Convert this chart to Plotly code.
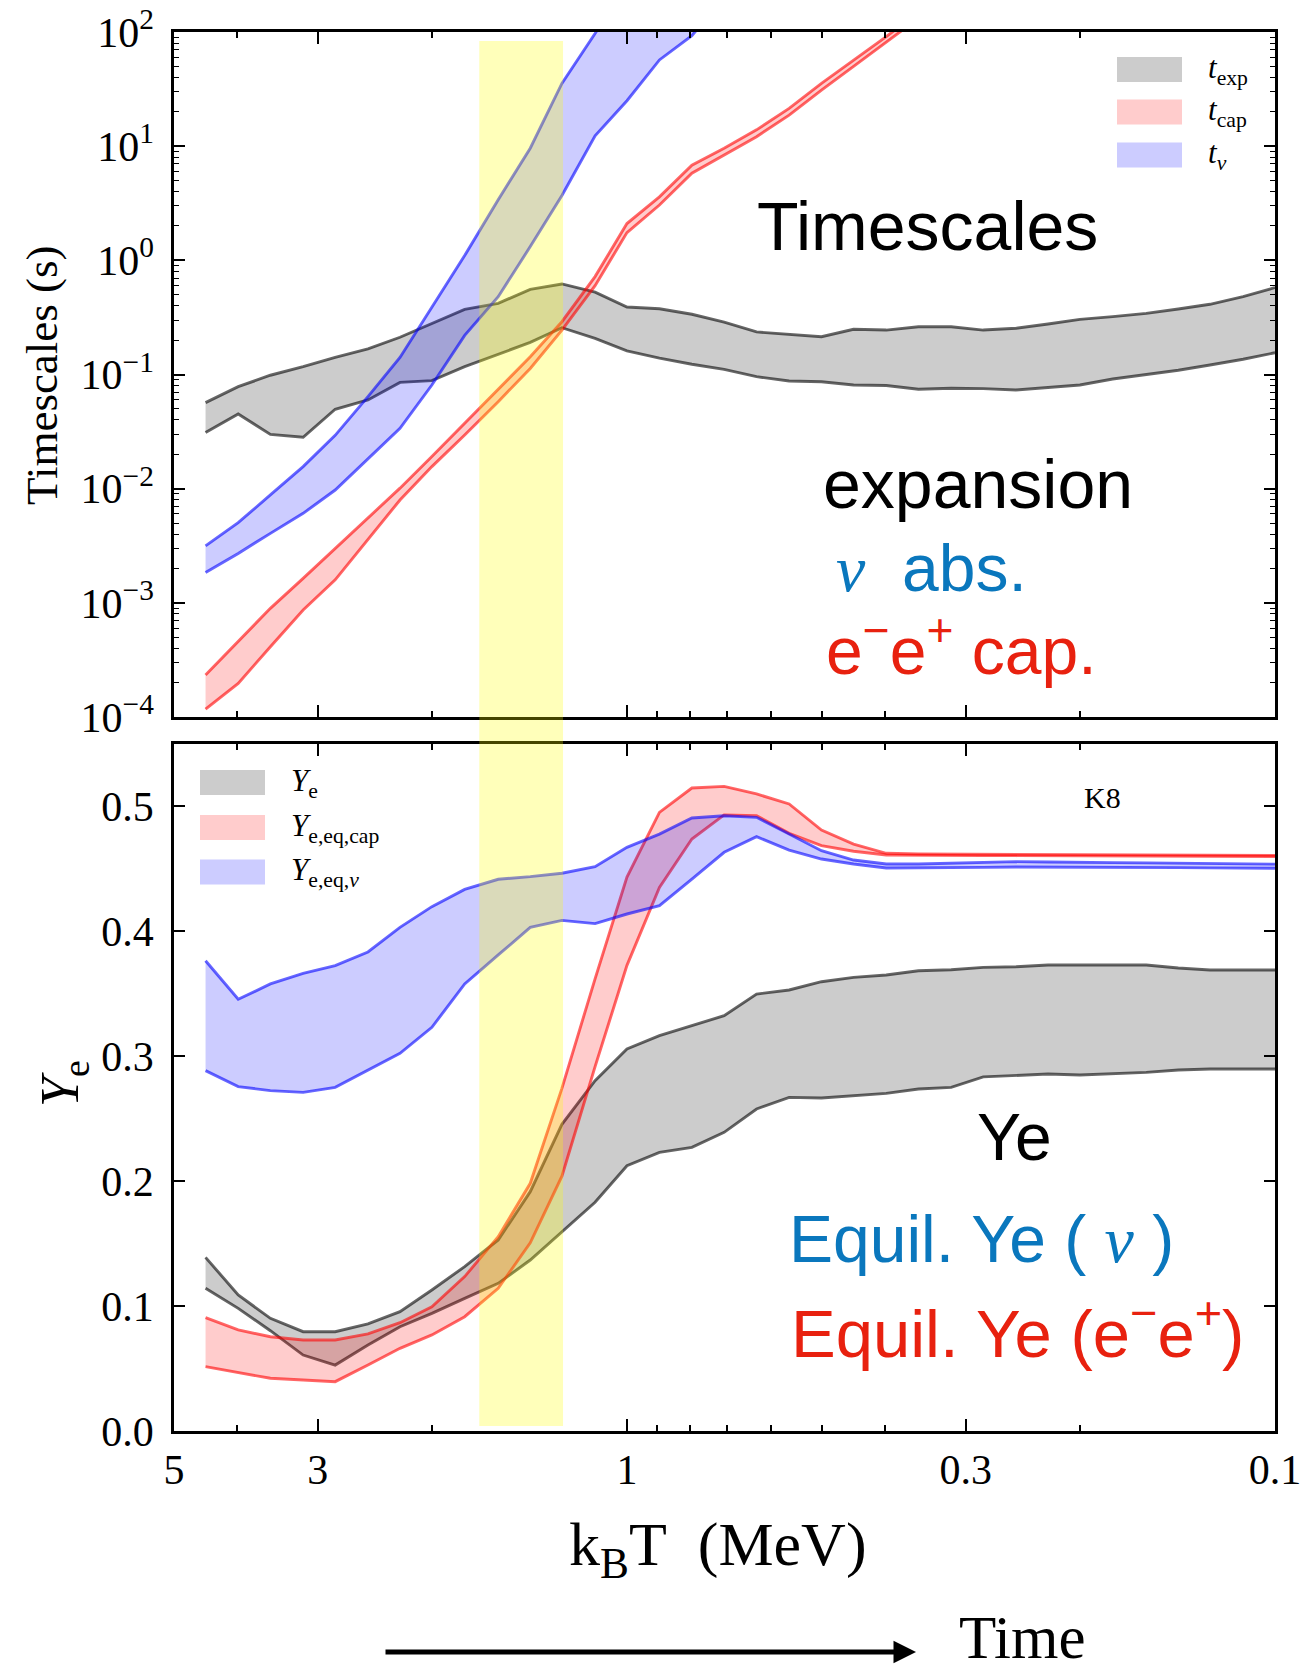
import math
import plotly.graph_objects as go

# ---------------- data ----------------
T = [4.47, 3.98, 3.55, 3.16, 2.82, 2.51, 2.24, 2.00, 1.78, 1.58, 1.41, 1.26, 1.12, 1.00,
     0.891, 0.794, 0.708, 0.631, 0.562, 0.501, 0.447, 0.398, 0.355, 0.316, 0.282, 0.251,
     0.224, 0.200, 0.178, 0.158, 0.141, 0.126, 0.112, 0.100]

# top panel: timescales (s)
t_exp_hi = [0.0567, 0.0783, 0.0985, 0.117, 0.141, 0.168, 0.212, 0.281, 0.372, 0.420, 0.557, 0.621,
            0.527, 0.390, 0.377, 0.337, 0.288, 0.236, 0.223, 0.214, 0.249, 0.245, 0.262, 0.262,
            0.245, 0.254, 0.277, 0.304, 0.321, 0.343, 0.375, 0.412, 0.481, 0.577]
t_exp_lo = [0.0310, 0.0451, 0.0299, 0.0282, 0.0496, 0.0598, 0.0853, 0.0883, 0.117, 0.150, 0.191,
            0.257, 0.207, 0.161, 0.139, 0.123, 0.111, 0.0957, 0.0877, 0.0865, 0.0809, 0.0800,
            0.0742, 0.0757, 0.0752, 0.0732, 0.0772, 0.0810, 0.0914, 0.100, 0.109, 0.121, 0.136, 0.155]
t_cap_hi = [2.33e-4, 4.57e-4, 8.95e-4, 1.64e-3, 3.0e-3, 5.5e-3, 0.0101, 0.0191, 0.0373, 0.073,
            0.143, 0.290, 0.72, 2.1, 3.6, 6.8, 9.6, 13.9, 21.4, 35.5, 57.0, 91.0, 150.0]
t_cap_lo = [1.17e-4, 1.97e-4, 4.13e-4, 8.65e-4, 1.59e-3, 3.55e-3, 7.96e-3, 0.0156, 0.0295, 0.0578,
            0.113, 0.245, 0.60, 1.75, 3.05, 5.8, 8.4, 12.1, 18.7, 31.0, 50.0, 81.0, 132.0]
t_nu_hi = [0.00315, 0.00504, 0.00881, 0.0156, 0.0293, 0.064, 0.141, 0.393, 1.1, 3.4, 9.6,
           35.5, 97.0, 270.0]
t_nu_lo = [0.00184, 0.00271, 0.00406, 0.00608, 0.00973, 0.0184, 0.0338, 0.0809, 0.22, 0.48,
           1.32, 3.7, 12.3, 25.0, 56.9, 93.0, 200.0]

# bottom panel: electron fraction
ye_hi = [0.1390, 0.1089, 0.0902, 0.0795, 0.0795, 0.0857, 0.0955, 0.1129, 0.1316, 0.1529, 0.1916,
         0.2455, 0.2805, 0.3058, 0.3165, 0.3245, 0.3325, 0.3498, 0.3531, 0.3597, 0.3632, 0.3651,
         0.3685, 0.3693, 0.3712, 0.3717, 0.3731, 0.3731, 0.3733, 0.3731, 0.3707, 0.3691, 0.3691, 0.3691]
ye_lo = [0.1142, 0.0982, 0.0803, 0.0608, 0.0528, 0.0688, 0.0835, 0.0942, 0.1062, 0.1182, 0.1369,
         0.1596, 0.1831, 0.2124, 0.2231, 0.2271, 0.2391, 0.2578, 0.2671, 0.2666, 0.2685, 0.2703,
         0.2738, 0.2751, 0.2835, 0.2848, 0.2858, 0.2850, 0.2863, 0.2871, 0.2890, 0.2898, 0.2898, 0.2898]
ye_cap_hi = [0.0907, 0.0809, 0.0755, 0.0729, 0.0729, 0.0777, 0.0867, 0.0995, 0.1236, 0.1556, 0.1983,
             0.2743, 0.3620, 0.4435, 0.4953, 0.5148, 0.5161, 0.5100, 0.5020, 0.4811, 0.4699, 0.4625,
             0.4619, 0.4618, 0.4617, 0.4616, 0.4615, 0.4614, 0.4613, 0.4612, 0.4611, 0.4610, 0.4609, 0.4608]
ye_cap_lo = [0.0515, 0.0467, 0.0422, 0.0408, 0.0395, 0.0528, 0.0662, 0.0769, 0.0915, 0.1142, 0.1507,
             0.2040, 0.2917, 0.3728, 0.4352, 0.4739, 0.4932, 0.4926, 0.4785, 0.4686, 0.4641, 0.4611,
             0.4608, 0.4607, 0.4606, 0.4606, 0.4605, 0.4605, 0.4604, 0.4603, 0.4602, 0.4601, 0.4600, 0.4599]
ye_nu_hi = [0.3765, 0.3456, 0.3579, 0.3664, 0.3725, 0.3835, 0.4032, 0.4198, 0.4336, 0.4417, 0.4438,
            0.4465, 0.4518, 0.4673, 0.4779, 0.4908, 0.4926, 0.4913, 0.4779, 0.4646, 0.4571, 0.4539,
            0.4539, 0.4545, 0.4553, 0.4558, 0.4555, 0.4550, 0.4550, 0.4548, 0.4545, 0.4543, 0.4540, 0.4538]
ye_nu_lo = [0.2885, 0.2757, 0.2725, 0.2711, 0.2751, 0.2890, 0.3023, 0.3232, 0.3579, 0.3811, 0.4032,
            0.4088, 0.4062, 0.4139, 0.4206, 0.4419, 0.4633, 0.4758, 0.4651, 0.4579, 0.4539, 0.4507,
            0.4507, 0.4510, 0.4512, 0.4515, 0.4515, 0.4513, 0.4512, 0.4510, 0.4510, 0.4508, 0.4507, 0.4505]

band_window = [1.69, 1.255]  # highlighted temperature window (MeV)

x_major = [5, 3, 1, 0.3, 0.1]
x_major_text = ["5", "3", "1", "0.3", "0.1"]
x_minor = [4, 2, 0.9, 0.8, 0.7, 0.6, 0.5, 0.4, 0.2]
y1_major = [1e-4, 1e-3, 1e-2, 1e-1, 1e0, 1e1, 1e2]
y1_major_text = ["10<sup>\u22124</sup>", "10<sup>\u22123</sup>", "10<sup>\u22122</sup>",
                 "10<sup>\u22121</sup>", "10<sup>0</sup>", "10<sup>1</sup>", "10<sup>2</sup>"]
y1_minor = [m * 10.0 ** e for e in range(-4, 2) for m in range(2, 10)]
y2_major = [0.0, 0.1, 0.2, 0.3, 0.4, 0.5]
y2_major_text = ["0.0", "0.1", "0.2", "0.3", "0.4", "0.5"]

top_legend = ["<i>t</i><sub>exp</sub>", "<i>t</i><sub>cap</sub>", "<i>t</i><sub><i>\u03bd</i></sub>"]
bot_legend = ["<i>Y</i><sub>e</sub>", "<i>Y</i><sub>e,eq,cap</sub>", "<i>Y</i><sub>e,eq,<i>\u03bd</i></sub>"]

# ---------------- style ----------------
W, H = 1301, 1674
SERIF = "Liberation Serif"
SANS = "Liberation Sans"
GRAY_F, GRAY_L = "rgba(0,0,0,0.2)", "rgba(0,0,0,0.6)"
RED_F, RED_L = "rgba(255,0,0,0.2)", "rgba(255,0,0,0.6)"
BLUE_F, BLUE_L = "rgba(0,0,255,0.2)", "rgba(0,0,255,0.6)"
SWATCH = ["#cccccc", "#ffcccc", "#ccccff"]
TXT_BLUE = "#0a77bd"
TXT_RED = "#e8210f"
LW = 2.9

def px(x):
    return x / W

def py(y):
    return 1 - y / H

fig = go.Figure()

def add_band(hi, lo, fillc, linec, xa, ya):
    xh = T[:len(hi)]
    xl = T[:len(lo)]
    fig.add_trace(go.Scatter(x=xh + xl[::-1], y=hi + lo[::-1], mode="lines", fill="toself",
                             fillcolor=fillc, line=dict(width=0), xaxis=xa, yaxis=ya,
                             showlegend=False, hoverinfo="skip"))
    fig.add_trace(go.Scatter(x=xh, y=hi, mode="lines", line=dict(color=linec, width=LW),
                             xaxis=xa, yaxis=ya, showlegend=False))
    fig.add_trace(go.Scatter(x=xl, y=lo, mode="lines", line=dict(color=linec, width=LW),
                             xaxis=xa, yaxis=ya, showlegend=False))

add_band(t_exp_hi, t_exp_lo, GRAY_F, GRAY_L, "x", "y")
add_band(t_cap_hi, t_cap_lo, RED_F, RED_L, "x", "y")
add_band(t_nu_hi, t_nu_lo, BLUE_F, BLUE_L, "x", "y")

add_band(ye_hi, ye_lo, GRAY_F, GRAY_L, "x2", "y2")
add_band(ye_cap_hi, ye_cap_lo, RED_F, RED_L, "x2", "y2")
add_band(ye_nu_hi, ye_nu_lo, BLUE_F, BLUE_L, "x2", "y2")

tickfont = dict(family=SERIF, size=42, color="black")
xdom = [px(174), px(1275)]

def xaxis_cfg(labels, anchor):
    return dict(type="log", range=[math.log10(5), -1], domain=xdom, anchor=anchor,
                automargin=False, ticklabeloverflow="allow",
                tickmode="array", tickvals=x_major, ticktext=x_major_text,
                showticklabels=labels, ticks="inside", ticklen=12, tickwidth=2, tickcolor="black",
                minor=dict(tickmode="array", tickvals=x_minor, ticks="inside", ticklen=6,
                           tickwidth=1.6, tickcolor="black", showgrid=False),
                showline=True, linecolor="black", linewidth=2.5, mirror="ticks",
                showgrid=False, zeroline=False, tickfont=tickfont, ticklabelstandoff=0)

fig.update_layout(
    template="none",
    width=W, height=H, margin=dict(l=0, r=0, t=0, b=0, pad=0, autoexpand=False),
    paper_bgcolor="white", plot_bgcolor="white", showlegend=False,
    font=dict(family=SERIF, color="black"),
    xaxis=xaxis_cfg(False, "y"),
    xaxis2=xaxis_cfg(True, "y2"),
    yaxis=dict(type="log", range=[-4, 2], domain=[py(717), py(32)], anchor="x",
               automargin=False, ticklabeloverflow="allow",
               tickmode="array", tickvals=y1_major, ticktext=y1_major_text,
               ticks="inside", ticklen=11, tickwidth=2, tickcolor="black",
               minor=dict(tickmode="array", tickvals=y1_minor, ticks="inside", ticklen=5,
                          tickwidth=1.4, tickcolor="black", showgrid=False),
               showline=True, linecolor="black", linewidth=2.5, mirror="ticks",
               showgrid=False, zeroline=False, tickfont=tickfont, ticklabelstandoff=9),
    yaxis2=dict(range=[0, 0.55], domain=[py(1431), py(744)], anchor="x2",
                automargin=False, ticklabeloverflow="allow",
                tickmode="array", tickvals=y2_major, ticktext=y2_major_text,
                ticks="inside", ticklen=11, tickwidth=2, tickcolor="black",
                showline=True, linecolor="black", linewidth=2.5, mirror="ticks",
                showgrid=False, zeroline=False, tickfont=tickfont, ticklabelstandoff=9),
)

# highlighted window spanning both panels
fig.add_shape(type="rect", xref="x", yref="paper", x0=band_window[0], x1=band_window[1],
              y0=py(1426), y1=py(41), fillcolor="rgba(255,255,0,0.27)", line=dict(width=0),
              layer="above")

ann = []

def text(x, y, s, size, color="black", family=SANS, angle=0, xanchor="center"):
    ann.append(dict(x=px(x), y=py(y), xref="paper", yref="paper", text=s, showarrow=False,
                    font=dict(family=family, size=size, color=color), textangle=angle,
                    xanchor=xanchor, yanchor="middle"))

nu = "<span style='font-family:%s'><i>\u03bd</i></span>" % SERIF

# panel texts
text(927, 226, "Timescales", 68)
text(978, 484, "expansion", 68)
text(931, 568, nu + "\u00a0\u00a0abs.", 66, TXT_BLUE)
text(962, 646, "e<sup>\u2212</sup>e<sup>+</sup> cap.", 66, TXT_RED)
text(1014, 1137, "Ye", 66)
text(981, 1239, "Equil. Ye (\u00a0" + nu + "\u00a0)", 66, TXT_BLUE)
text(1017, 1329, "Equil. Ye (e<sup>\u2212</sup>e<sup>+</sup>)", 67, TXT_RED)
text(1102, 798, "K8", 30, family=SERIF)

# axis titles
text(42, 375, "Timescales (s)", 45, family=SERIF, angle=-90)
text(63, 1084, "<i>Y</i><sub>e</sub>", 54, family=SERIF, angle=-90)
text(718, 1548, "k<sub>B</sub>T\u00a0 (MeV)", 62, family=SERIF)
text(1022, 1637, "Time", 61, family=SERIF)

# time arrow
ann.append(dict(x=px(916), y=py(1652), xref="paper", yref="paper", ax=384 - 916, ay=0,
                axref="pixel", ayref="pixel", text="", showarrow=True, arrowhead=2,
                arrowsize=0.9, arrowwidth=5, arrowcolor="black"))

# legends (swatch + label)
for i, (lab, col) in enumerate(zip(top_legend, SWATCH)):
    cy = [69.5, 112, 155][i]
    fig.add_shape(type="rect", xref="paper", yref="paper", x0=px(1117), x1=px(1182),
                  y0=py(cy + 12.5), y1=py(cy - 12.5), fillcolor=col, line=dict(width=0))
    text(1206, cy, lab, 31, family=SERIF, xanchor="left")
for i, (lab, col) in enumerate(zip(bot_legend, SWATCH)):
    cy = [782.5, 827.5, 872][i]
    fig.add_shape(type="rect", xref="paper", yref="paper", x0=px(200), x1=px(265),
                  y0=py(cy + 12.5), y1=py(cy - 12.5), fillcolor=col, line=dict(width=0))
    text(289, cy, lab, 31, family=SERIF, xanchor="left")

fig.update_layout(annotations=ann)
fig.write_html("out.html", config={"displayModeBar": False},
               post_script="document.body.style.margin='0px';document.body.style.overflow='hidden';")
